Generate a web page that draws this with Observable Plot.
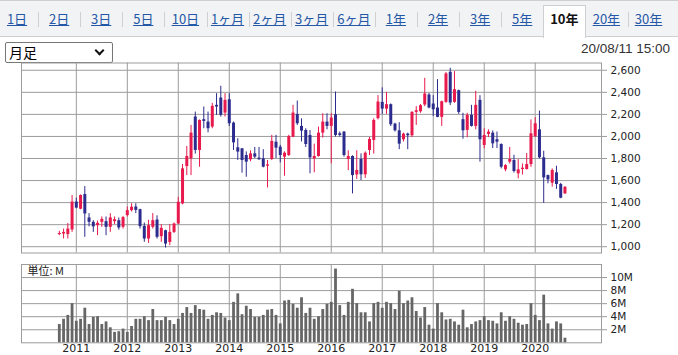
<!DOCTYPE html>
<html><head><meta charset="utf-8">
<script src="https://cdn.jsdelivr.net/npm/d3@7"></script>
<script src="https://cdn.jsdelivr.net/npm/@observablehq/plot@0.6"></script>
<style>
body{margin:0;width:678px;height:355px;overflow:hidden;background:#fff;position:relative;font-family:"Noto Sans CJK JP","DejaVu Sans",sans-serif;}
#tabbar{position:absolute;left:0;top:0;width:678px;height:37px;background:#f2f3f5;border-top:1px solid #cfcfcf;border-bottom:1px solid #cfcfcf;box-sizing:border-box;}
.tab{position:absolute;top:9px;font-size:13px;color:#2457a6;text-decoration:underline;transform:translateX(-50%);white-space:nowrap;line-height:18px;}
.sep{position:absolute;top:11px;width:1px;height:15px;background:#d0d0d0;}
#sel{position:absolute;left:5px;top:42px;width:108px;height:21px;border:1px solid #767676;border-radius:2px;box-sizing:border-box;background:#fff;font-size:14px;line-height:19px;padding-left:3px;color:#000;}
#sel span.chev{position:absolute;right:9px;top:4px;width:5px;height:5px;border-right:2px solid #111;border-bottom:2px solid #111;transform:rotate(45deg);}
#ts{position:absolute;right:8px;top:41px;font-size:13.5px;font-family:"Liberation Sans",Arial,sans-serif;color:#333;}
#price{position:absolute;left:0;top:56px;}
#vol{position:absolute;left:0;top:258px;}
</style></head><body>
<div id="tabbar"></div>
<div id="sel">月足<span class="chev"></span></div>
<div id="ts">20/08/11 15:00</div>
<div id="price"></div>
<div id="vol"></div>
<script>
// ---- data (monthly, 2010-09 .. 2020-08) ----
const tabs = ["1日","2日","3日","5日","10日","1ヶ月","2ヶ月","3ヶ月","6ヶ月","1年","2年","3年","5年","10年","20年","30年"];
const selectedTab = "10年";
const years = [2011,2012,2013,2014,2015,2016,2017,2018,2019,2020];
const firstMonth = 9; // data starts in September 2010
const priceTicks = [1000,1200,1400,1600,1800,2000,2200,2400,2600];
const volTicks = [2,4,6,8,10];
const open  = [1110,1115,1110,1152,1405,1340,1473,1261,1221,1191,1221,1227,1176,1227,1236,1176,1282,1327,1360,1336,
               1185,1070,1176,1242,1091,1145,1039,1130,1206,1388,1727,1797,2176,1873,2152,2130,2085,2282,2348,2212,
               2333,2121,1897,1888,1827,1788,1842,1803,1797,1730,1791,1948,1903,1812,1827,1994,2200,2091,2054,2009,
               1797,1818,2030,2130,2091,2197,2024,2039,1791,1818,1651,1791,1652,1873,1964,2161,2309,2248,2288,2112,
               2051,1970,2021,2006,2218,2224,2285,2376,2294,2258,2173,2309,2582,2309,2415,2152,2055,2191,2091,2327,
               1918,2018,2030,1970,1927,1697,1767,1782,1661,1700,1700,1745,2000,2060,1806,1645,1576,1670,1564,1479];
const high  = [1140,1160,1210,1464,1440,1470,1545,1300,1236,1233,1270,1270,1300,1270,1260,1275,1360,1390,1390,1340,
               1215,1240,1300,1280,1200,1150,1200,1215,1448,1745,1909,2100,2221,2150,2267,2221,2300,2388,2455,2388,
               2388,2130,1979,1890,1860,1870,1900,1900,1880,1782,2010,2010,1920,1860,2010,2282,2321,2160,2070,2054,
               1930,2085,2206,2206,2206,2403,2040,2045,1870,1825,1870,1842,1860,1990,2160,2370,2440,2400,2295,2120,
               2125,2030,2030,2225,2270,2290,2527,2390,2370,2515,2320,2580,2618,2588,2420,2210,2210,2282,2410,2370,
               2070,2060,2050,2040,1933,1745,1900,1830,1790,1750,1845,2150,2170,2230,1866,1650,1706,1730,1575,1545];
const low   = [1100,1070,1070,1130,1345,1335,1085,1180,1130,1100,1176,1100,1130,1200,1150,1160,1270,1315,1300,1160,
               1040,1030,1160,1070,1040, 988,1010,1120,1200,1380,1645,1645,1840,1721,2070,2033,2070,2191,2176,2176,
               2090,1873,1782,1667,1630,1770,1800,1785,1715,1533,1782,1800,1760,1639,1818,1988,2100,1950,1900,1661,
               1670,1812,1985,2060,1752,1994,1994,1812,1691,1479,1610,1600,1620,1827,1840,2150,2200,2200,2090,2040,
               1880,1950,1880,1990,2100,2210,2270,2250,2180,2170,2091,2300,2280,2300,2200,1975,1988,2085,2060,1767,
               1888,1990,1890,1890,1706,1680,1750,1668,1615,1650,1695,1720,1990,1797,1394,1570,1540,1520,1435,1475];
const close = [1120,1130,1160,1405,1350,1464,1297,1221,1180,1212,1248,1176,1261,1245,1170,1264,1327,1358,1330,1182,
               1070,1191,1236,1085,1167,1024,1130,1206,1403,1706,1818,2030,1873,2145,2136,2070,2273,2267,2191,2327,
               2115,1942,1858,1782,1767,1842,1812,1788,1721,1742,1955,1894,1827,1848,2000,2212,2115,2048,1927,1806,
               1818,2030,2130,2091,2167,2009,2009,1827,1818,1645,1691,1652,1848,1973,2145,2312,2248,2288,2106,2051,
               1930,2021,2006,2218,2233,2279,2385,2258,2242,2173,2315,2567,2303,2424,2218,2051,2191,2091,2282,1970,
               2009,2039,1933,1948,1721,1736,1791,1682,1697,1712,1745,2024,2115,1806,1624,1606,1691,1564,1440,1539];
const volume = [2.8,3.6,4.2,6.0,3.3,3.6,5.3,2.8,3.9,4.0, 2.8,3.2,2.3,1.6,1.7,2.1,1.6,2.5,3.6,3.6,
                4.0,3.4,5.1,3.4,3.4,3.9,3.4,2.8,3.6,4.5, 5.4,4.5,5.7,5.1,5.0,3.6,4.2,4.6,4.5,3.8,
                3.4,6.2,7.5,4.3,5.6,5.1,3.9,3.9,4.2,5.0, 5.1,4.2,2.9,6.4,6.5,5.9,5.3,6.9,4.5,5.3,
                3.6,4.0,5.1,5.9,6.2,11.3,5.7,4.2,6.2,8.2, 6.0,4.6,4.6,3.2,6.0,6.2,5.3,6.2,6.0,5.1,
                7.9,6.0,6.4,6.9,4.8,3.8,5.4,2.7,2.1,6.0, 4.6,3.5,3.6,3.2,2.7,5.0,2.3,2.8,3.2,3.4,
                4.0,3.4,3.3,2.9,4.6,3.3,4.0,3.6,3.0,2.7, 2.8,6.0,4.2,3.4,7.3,2.9,2.1,3.2,2.9,0.7];

// ---- tabs ----
const bar = document.getElementById("tabbar");
tabs.forEach((t, k) => {
  const cx = 17 + 42.1 * k;
  if (t === selectedTab) {
    const box = document.createElement("div");
    box.style.cssText = `position:absolute;left:${cx-21.5}px;top:4px;width:43px;height:33px;background:#fff;border:1px solid #cfcfcf;border-bottom:none;box-sizing:border-box;`;
    bar.appendChild(box);
  }
  const s = document.createElement("div");
  s.className = "tab"; s.textContent = t; s.style.left = cx + "px";
  if (t === selectedTab) { s.style.color = "#111"; s.style.textDecoration = "none"; s.style.fontWeight = "bold"; }
  bar.appendChild(s);
  if (k > 0 && tabs[k-1] !== selectedTab && t !== selectedTab) {
    const sp = document.createElement("div"); sp.className = "sep"; sp.style.left = (cx - 21) + "px"; bar.appendChild(sp);
  }
});

// ---- chart data ----
const rows = open.map((o, i) => ({i, o, h: high[i], l: low[i], c: close[i], v: volume[i] * 1e6, up: close[i] >= o}));
const jan = years.map((y, k) => (13 - firstMonth) % 12 + 12 * k);
const RED = "#e8194c", BLUE = "#2c2c8e", GRID = "#9c9c9c";
const xDomain = [-8.9, 127.6];
const font = {fontFamily: "DejaVu Sans, sans-serif", fontSize: "10.5px", color: "#222", background: "transparent", overflow: "visible"};

const price = Plot.plot({
  width: 678, height: 200,
  marginLeft: 21, marginRight: 77, marginTop: 6.5, marginBottom: 3.5,
  style: font,
  x: {type: "linear", domain: xDomain, axis: null},
  y: {domain: [943, 2666], axis: null},
  marks: [
    Plot.gridX(jan, {stroke: GRID, strokeOpacity: 1}),
    Plot.gridY(priceTicks, {stroke: GRID, strokeOpacity: 1}),
    Plot.frame({stroke: GRID}),
    Plot.axisY(priceTicks, {anchor: "right", label: null, tickSize: 5, tickPadding: 4, stroke: GRID, tickFormat: d3.format(",")}),
    Plot.ruleX(rows, {x: "i", y1: "l", y2: "h", stroke: d => d.up ? RED : BLUE, strokeWidth: 1}),
    Plot.ruleX(rows, {x: "i", y1: "o", y2: "c", stroke: d => d.up ? RED : BLUE, strokeWidth: 3})
  ]
});
document.getElementById("price").appendChild(price);

const vol = Plot.plot({
  width: 678, height: 97,
  marginLeft: 21, marginRight: 77, marginTop: 6, marginBottom: 12.7,
  style: font,
  x: {type: "linear", domain: xDomain, axis: null},
  y: {domain: [0, 12e6], axis: null},
  marks: [
    Plot.gridX(jan, {stroke: GRID, strokeOpacity: 1}),
    Plot.gridY(volTicks.map(d => d * 1e6), {stroke: GRID, strokeOpacity: 1}),
    Plot.frame({stroke: GRID}),
    Plot.axisY(volTicks.map(d => d * 1e6), {anchor: "right", label: null, tickSize: 5, tickPadding: 4, stroke: GRID, tickFormat: d => d / 1e6 + "M"}),
    Plot.axisX(jan, {anchor: "bottom", label: null, tickSize: 0, tickPadding: 1, tickFormat: d => String(years[jan.indexOf(d)]), fontSize: "11px"}),
    Plot.ruleX(rows, {x: "i", y1: 0, y2: "v", stroke: "#666", strokeWidth: 2.8}),
    Plot.text(["単位: M"], {frameAnchor: "top-left", dx: 6, dy: 3, fontFamily: "Noto Sans CJK JP", fontSize: 11, fill: "#222"})
  ]
});
document.getElementById("vol").appendChild(vol);
</script>
</body></html>
